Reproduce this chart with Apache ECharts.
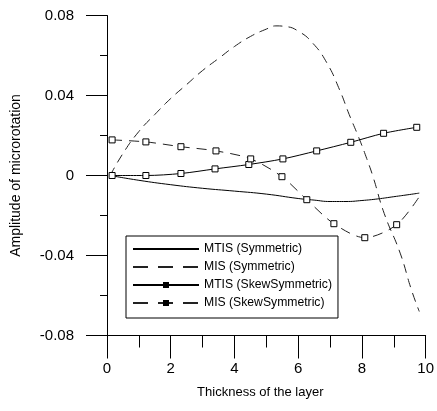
<!DOCTYPE html>
<html>
<head>
<meta charset="utf-8">
<script src="https://cdn.jsdelivr.net/npm/echarts@6/dist/echarts.min.js"></script>
<style>
  html, body { margin: 0; padding: 0; background: #fff; }
  #chart { width: 437px; height: 411px; }
</style>
</head>
<body>
<div id="chart"></div>
<script>
// thickness of the layer (x) and amplitude of microrotation (y)
const mtisSymX = [0.1, 1, 2, 3, 4, 5, 6, 6.5, 7, 7.5, 8, 8.5, 9, 9.5, 9.8]
const mtisSymY = [0, -0.0024, -0.0046, -0.0064, -0.0078, -0.0093, -0.0115, -0.0123, -0.013, -0.013, -0.0125, -0.0117, -0.0106, -0.0095, -0.0088]

const misSymX = [0.1, 0.5, 1, 1.5, 2, 2.5, 3, 3.5, 4, 4.5, 5, 5.3, 5.6, 6, 6.45, 6.9, 7.3, 7.6, 7.9, 8.15, 8.35, 8.7, 9.2, 9.55, 9.8]
const misSymY = [0, 0.011, 0.022, 0.0305, 0.0385, 0.0455, 0.0525, 0.0585, 0.0645, 0.0695, 0.0732, 0.0748, 0.0745, 0.0722, 0.0663, 0.0563, 0.0428, 0.0305, 0.019, 0.0085, -0.0007, -0.019, -0.0388, -0.057, -0.068]

const mtisSkewX = [0.16, 1.22, 2.32, 3.39, 4.45, 5.52, 6.58, 7.65, 8.68, 9.72]
const mtisSkewY = [0, 0, 0.001, 0.0033, 0.0055, 0.0083, 0.0123, 0.0166, 0.0211, 0.0241]

const misSkewX = [0.16, 1.22, 2.32, 3.42, 4.51, 5.49, 6.27, 7.12, 8.09, 9.09, 9.8]
const misSkewY = [0.0178, 0.0168, 0.0144, 0.0123, 0.0083, -0.0006, -0.0121, -0.0241, -0.0311, -0.0246, -0.0106]

const seriesNames = ['MTIS (Symmetric)', 'MIS (Symmetric)', 'MTIS (SkewSymmetric)', 'MIS (SkewSymmetric)']

const font = 'Liberation Sans, Arial, sans-serif'

const pairs = (xs, ys) => xs.map((x, i) => [x, ys[i]])

const marker = {
  symbol: 'rect',
  symbolSize: 6,
  itemStyle: { color: '#fff', borderColor: '#000', borderWidth: 1 }
}

const chart = echarts.init(document.getElementById('chart'), null, { renderer: 'canvas' })

const option = {
  animation: false,
  backgroundColor: '#fff',
  grid: { left: 107, right: 11, top: 15.5, bottom: 75.5 },
  legend: {
    orient: 'vertical',
    left: 126,
    top: 236,
    padding: [6, 6, 8, 6],
    itemWidth: 66,
    itemHeight: 5,
    itemGap: 4,
    borderColor: '#000',
    borderWidth: 1,
    backgroundColor: '#fff',
    textStyle: { color: '#000', fontFamily: font, fontSize: 12.2, lineHeight: 14 },
    data: [
      // plain lines: hide the dot the legend would put on them
      { name: seriesNames[0], itemStyle: { opacity: 0 } },
      { name: seriesNames[1], itemStyle: { opacity: 0 }, lineStyle: { type: [15, 10] } },
      { name: seriesNames[2], itemStyle: { color: '#000', borderColor: '#000' } },
      { name: seriesNames[3], itemStyle: { color: '#000', borderColor: '#000' }, lineStyle: { type: [15, 10] } }
    ]
  },
  xAxis: {
    type: 'value',
    min: 0,
    max: 10,
    interval: 2,
    name: 'Thickness of the layer',
    nameLocation: 'middle',
    nameGap: 50,
    nameTextStyle: { color: '#000', fontFamily: font, fontSize: 13, padding: [0, 12, 0, 0] },
    axisLine: { onZero: false, lineStyle: { color: '#000', width: 1 } },
    axisTick: { length: 23, lineStyle: { color: '#000' } },
    minorTick: { show: true, splitNumber: 2, length: 12, lineStyle: { color: '#000' } },
    splitLine: { show: false },
    axisLabel: { color: '#000', fontFamily: font, fontSize: 15, margin: 26 }
  },
  yAxis: {
    type: 'value',
    min: -0.08,
    max: 0.08,
    interval: 0.04,
    name: 'Amplitude of microrotation',
    nameLocation: 'middle',
    nameGap: 84,
    nameTextStyle: { color: '#000', fontFamily: font, fontSize: 14 },
    axisLine: { show: true, onZero: false, lineStyle: { color: '#000', width: 1 } },
    axisTick: { show: true, length: 21, lineStyle: { color: '#000' } },
    minorTick: { show: true, splitNumber: 2, length: 7, lineStyle: { color: '#000' } },
    splitLine: { show: false },
    axisLabel: {
      color: '#000',
      fontFamily: font,
      fontSize: 15,
      margin: 33,
      formatter: v => (Math.abs(v) < 1e-9 ? '0' : v.toFixed(2))
    }
  },
  series: [
    {
      name: seriesNames[0],
      type: 'line',
      data: pairs(mtisSymX, mtisSymY),
      smooth: true,
      symbol: 'none',
      lineStyle: { color: '#000', width: 1 },
      itemStyle: { color: '#000' }
    },
    {
      name: seriesNames[1],
      type: 'line',
      data: pairs(misSymX, misSymY),
      smooth: true,
      symbol: 'none',
      lineStyle: { color: '#222', width: 1, type: [9, 6] },
      itemStyle: { color: '#222' }
    },
    {
      name: seriesNames[2],
      type: 'line',
      data: pairs(mtisSkewX, mtisSkewY),
      smooth: 0.3,
      ...marker,
      lineStyle: { color: '#000', width: 1 }
    },
    {
      name: seriesNames[3],
      type: 'line',
      // last point only closes the curve, it has no marker
      data: pairs(misSkewX, misSkewY).map((p, i, arr) =>
        i === arr.length - 1 ? { value: p, symbol: 'none' } : p
      ),
      smooth: 0.3,
      ...marker,
      lineStyle: { color: '#222', width: 1, type: [10, 7] }
    }
  ]
}

chart.setOption(option)
</script>
</body>
</html>
